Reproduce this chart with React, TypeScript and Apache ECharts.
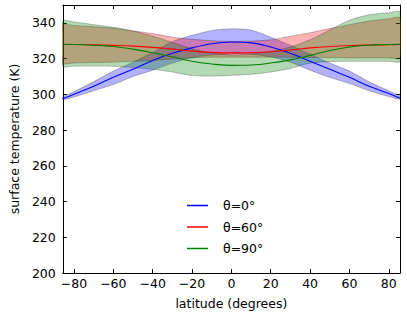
import React, { useEffect, useRef } from "react";
import * as echarts from "echarts";

const lat = [-85.7, -80, -70, -60, -50, -40, -30, -20, -10, 0, 10, 20, 30, 40, 50, 60, 70, 80, 85.7];

const blueMean = [297.5, 300, 304.5, 309.5, 314, 319, 323, 326, 328.3, 329.3, 328.8, 326.5, 323, 318.5, 314, 309.5, 304.5, 300.5, 297.8];
const blueUpper = [298.5, 301.5, 307, 313, 318, 323.5, 329.5, 333, 335.7, 336.7, 336, 332, 327.5, 322.5, 317.5, 313, 307, 302, 299];
const blueLower = [297, 298.5, 302, 305.5, 310, 313.5, 317.5, 320.5, 322, 322.5, 322.5, 321, 318, 313.5, 309.5, 306, 302, 298.8, 297.2];

const redMean = [327.9, 327.9, 327.7, 327.4, 327, 326.3, 325.3, 324.2, 323.5, 323.2, 323.3, 323.8, 324.8, 326, 326.8, 327.3, 327.6, 327.8, 327.9];
const redUpper = [338.8, 338.5, 337.8, 337, 335.5, 334, 332, 330.8, 330, 329.6, 329.8, 330.5, 332.5, 334.5, 336.8, 339, 341, 342.3, 342.8];
const redLower = [317.5, 317.6, 317.8, 318, 318.5, 319, 319.8, 320.5, 320.8, 320.8, 320.8, 320.8, 320.8, 320.6, 320.5, 320.4, 320.4, 320.4, 320.4];

const greenMean = [328, 327.9, 327.5, 326.8, 325.3, 323.3, 321, 318.5, 317, 316.2, 316.4, 317.5, 319.3, 321.8, 324.5, 326.5, 327.5, 327.9, 328];
const greenUpper = [341, 340.5, 339, 337.5, 335.5, 332.5, 329, 325.5, 323, 322, 322.5, 324, 326.5, 330.5, 336, 341.5, 344.5, 345.7, 346];
const greenLower = [315.8, 315.8, 315.8, 315.7, 315, 314, 312.5, 310.5, 310.2, 310.6, 311.2, 312.5, 314.5, 317.5, 318.3, 318.5, 318.5, 318.5, 318.5];

const xTicks = [-80, -60, -40, -20, 0, 20, 40, 60, 80];
const yTicks = [200, 220, 240, 260, 280, 300, 320, 340];

const seriesDefs = [
  { name: "θ=0°", color: "#0000ff", fill: "rgba(0,0,255,0.3)", mean: blueMean, upper: blueUpper, lower: blueLower },
  { name: "θ=60°", color: "#ff0000", fill: "rgba(255,0,0,0.3)", mean: redMean, upper: redUpper, lower: redLower },
  { name: "θ=90°", color: "#008000", fill: "rgba(0,128,0,0.3)", mean: greenMean, upper: greenUpper, lower: greenLower },
];

const FONT = "DejaVu Sans";
const fmt = (v: number) => String(v).replace("-", "\u2212");

export default function App() {
  const ref = useRef<HTMLDivElement>(null);
  useEffect(() => {
    if (!ref.current) return;
    const chart = echarts.init(ref.current, undefined, { renderer: "svg" });
    const series: any[] = [];
    seriesDefs.forEach((s) => {
      const rows = lat.map((x, i) => [x, s.lower[i], s.upper[i]]);
      series.push({
        type: "custom",
        name: s.name + " band",
        data: rows,
        encode: { x: 0, y: [1, 2] },
        silent: true,
        z: 2,
        clip: true,
        renderItem: (params: any, api: any) => {
          if (params.dataIndex !== 0) return null;
          const top = rows.map((r) => api.coord([r[0], r[2]]));
          const bot = rows.map((r) => api.coord([r[0], r[1]])).reverse();
          return {
            type: "polygon",
            shape: { points: top.concat(bot), smooth: 0.25 },
            style: { fill: s.fill, stroke: "rgba(0,0,0,0.3)", lineWidth: 0.8 },
          };
        },
      });
    });
    seriesDefs.forEach((s) => {
      series.push({
        type: "line",
        name: s.name,
        data: lat.map((x, i) => [x, s.mean[i]]),
        showSymbol: false,
        smooth: 0.4,
        color: s.color,
        lineStyle: { color: s.color, width: 1.1 },
        z: 5,
      });
    });

    const axisLineStyle = { color: "#000", width: 1 };
    chart.setOption({
      animation: false,
      grid: { left: 54, right: 7, top: 5, bottom: 44, containLabel: false },
      legend: {
        data: seriesDefs.map((s) => s.name),
        orient: "vertical",
        left: 182,
        top: 194,
        itemWidth: 21,
        itemHeight: 1.5,
        itemGap: 8.5,
        icon: "rect",
        textStyle: { fontFamily: FONT, fontSize: 12.5, color: "#000", padding: [0, 0, 0, 10] },
      },
      xAxis: [
        {
          type: "value",
          min: -85.7,
          max: 85.7,
          position: "bottom",
          name: "latitude (degrees)",
          nameLocation: "middle",
          nameGap: 24,
          nameTextStyle: { fontFamily: FONT, fontSize: 12.5, color: "#000" },
          axisLine: { show: true, onZero: false, lineStyle: axisLineStyle },
          axisTick: { show: true, inside: true, length: 4, customValues: xTicks, lineStyle: axisLineStyle },
          axisLabel: { customValues: xTicks, formatter: fmt, fontFamily: FONT, fontSize: 12.5, color: "#000", margin: 4 },
          splitLine: { show: false },
        },
        {
          type: "value",
          min: -85.7,
          max: 85.7,
          position: "top",
          axisLine: { show: true, onZero: false, lineStyle: axisLineStyle },
          axisTick: { show: true, inside: true, length: 4, customValues: xTicks, lineStyle: axisLineStyle },
          axisLabel: { show: false },
          splitLine: { show: false },
        },
      ],
      yAxis: [
        {
          type: "value",
          min: 200,
          max: 350,
          position: "left",
          name: "surface temperature (K)",
          nameLocation: "middle",
          nameGap: 35,
          nameTextStyle: { fontFamily: FONT, fontSize: 12.5, color: "#000" },
          axisLine: { show: true, onZero: false, lineStyle: axisLineStyle },
          axisTick: { show: true, inside: true, length: 4, customValues: yTicks, lineStyle: axisLineStyle },
          axisLabel: { customValues: yTicks, fontFamily: FONT, fontSize: 12.5, color: "#000", margin: 7 },
          splitLine: { show: false },
        },
        {
          type: "value",
          min: 200,
          max: 350,
          position: "right",
          axisLine: { show: true, onZero: false, lineStyle: axisLineStyle },
          axisTick: { show: true, inside: true, length: 4, customValues: yTicks, lineStyle: axisLineStyle },
          axisLabel: { show: false },
          splitLine: { show: false },
        },
      ],
      series,
    });
    return () => chart.dispose();
  }, []);
  return <div ref={ref} style={{ width: 407, height: 317, position: "absolute", left: 0, top: 0 }} />;
}
